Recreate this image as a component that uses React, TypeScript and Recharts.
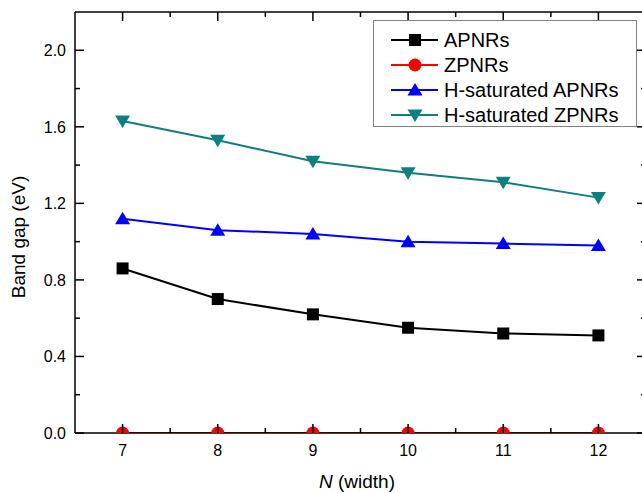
import { LineChart, Line, XAxis, YAxis, Legend } from "recharts";

const widths = [7, 8, 9, 10, 11, 12];
const apnrs = [0.86, 0.7, 0.62, 0.55, 0.52, 0.51];
const zpnrs = [0, 0, 0, 0, 0, 0];
const hApnrs = [1.12, 1.06, 1.04, 1.0, 0.99, 0.98];
const hZpnrs = [1.63, 1.53, 1.42, 1.36, 1.31, 1.23];

const xTicks = [7, 7.5, 8, 8.5, 9, 9.5, 10, 10.5, 11, 11.5, 12];
const yTicks = [0, 0.2, 0.4, 0.6, 0.8, 1.0, 1.2, 1.4, 1.6, 1.8, 2.0];

const FONT = "'Liberation Sans', Arial, sans-serif";

const data = widths.map((n, i) => ({
  n,
  apnrs: apnrs[i],
  zpnrs: zpnrs[i],
  hApnrs: hApnrs[i],
  hZpnrs: hZpnrs[i],
}));

const series = [
  { key: "apnrs", name: "APNRs", color: "#000000", shape: "square" },
  { key: "zpnrs", name: "ZPNRs", color: "#ff0000", shape: "circle" },
  { key: "hApnrs", name: "H-saturated APNRs", color: "#0000ff", shape: "up" },
  { key: "hZpnrs", name: "H-saturated ZPNRs", color: "#0e7f7f", shape: "down" },
];

function Marker({ cx, cy, shape, color }: any) {
  if (cx == null || cy == null) return null;
  if (shape === "square")
    return <rect x={cx - 6} y={cy - 6} width={12} height={12} fill={color} />;
  if (shape === "circle") return <circle cx={cx} cy={cy} r={6.5} fill={color} />;
  if (shape === "up")
    return (
      <polygon
        points={`${cx},${cy - 7} ${cx - 7.5},${cy + 5.5} ${cx + 7.5},${cy + 5.5}`}
        fill={color}
      />
    );
  return (
    <polygon
      points={`${cx - 7.5},${cy - 5.5} ${cx + 7.5},${cy - 5.5} ${cx},${cy + 7}`}
      fill={color}
    />
  );
}

const isMajorY = (v: number) => Math.round(v * 10) % 4 === 0;

const bottomTick = (p: any) => {
  const v = p.payload.value;
  const major = Number.isInteger(v);
  return (
    <g>
      <line x1={p.x} x2={p.x} y1={p.y} y2={p.y - (major ? 9 : 5)} stroke="#000" strokeWidth={1.5} />
      {major && (
        <text x={p.x} y={p.y + 23} textAnchor="middle" fontSize={16} fontFamily={FONT} fill="#000">
          {v}
        </text>
      )}
    </g>
  );
};

const topTick = (p: any) => {
  const major = Number.isInteger(p.payload.value);
  return (
    <line x1={p.x} x2={p.x} y1={p.y} y2={p.y + (major ? 9 : 5)} stroke="#000" strokeWidth={1.5} />
  );
};

const leftTick = (p: any) => {
  const v = p.payload.value;
  const major = isMajorY(v);
  return (
    <g>
      <line x1={p.x} x2={p.x + (major ? 9 : 5)} y1={p.y} y2={p.y} stroke="#000" strokeWidth={1.5} />
      {major && (
        <text x={p.x - 9} y={p.y + 6} textAnchor="end" fontSize={16} fontFamily={FONT} fill="#000">
          {v.toFixed(1)}
        </text>
      )}
    </g>
  );
};

// right spine sits just past the picture edge, only its inward ticks show
const rightTick = (p: any) => {
  const major = isMajorY(p.payload.value);
  return (
    <line x1={646} x2={646 - (major ? 9 : 5)} y1={p.y} y2={p.y} stroke="#000" strokeWidth={1.5} />
  );
};

const xLabel = () => (
  <text x={357} y={488} textAnchor="middle" fontSize={19} fontFamily={FONT} fill="#000">
    <tspan fontStyle="italic">N</tspan>
    <tspan> (width)</tspan>
  </text>
);

const yLabel = () => (
  <text
    x={25}
    y={237}
    transform="rotate(-90 25 237)"
    textAnchor="middle"
    fontSize={19}
    fontFamily={FONT}
    fill="#000"
  >
    Band gap (eV)
  </text>
);

const renderLegend = () => (
  <div
    style={{
      width: 264,
      height: 107,
      boxSizing: "border-box",
      border: "1.5px solid #808080",
      background: "#fff",
    }}
  >
    <svg width={261} height={104} style={{ display: "block" }}>
      {series.map((s, i) => {
        const cy = 19 + i * 25;
        return (
          <g key={s.key}>
            <line x1={17} x2={64} y1={cy} y2={cy} stroke={s.color} strokeWidth={2} />
            <Marker cx={41} cy={cy} shape={s.shape} color={s.color} />
            <text x={70} y={cy + 7} fontSize={20} fontFamily={FONT} fill="#000">
              {s.name}
            </text>
          </g>
        );
      })}
    </svg>
  </div>
);

export default function App() {
  return (
    <div
      style={{
        position: "absolute",
        left: 0,
        top: 0,
        width: 642,
        height: 493,
        overflow: "hidden",
        background: "#fff",
      }}
    >
      <LineChart
        width={652}
        height={493}
        data={data}
        margin={{ top: 11, right: 5, left: 74, bottom: 59 }}
      >
        <XAxis
          xAxisId="b"
          dataKey="n"
          type="number"
          domain={[6.5, 12.5]}
          ticks={xTicks}
          interval={0}
          allowDataOverflow
          height={1}
          tickLine={false}
          tickSize={0}
          tickMargin={0}
          axisLine={{ stroke: "#000", strokeWidth: 1.5 }}
          tick={bottomTick}
          label={{ content: xLabel }}
        />
        <XAxis
          xAxisId="t"
          orientation="top"
          dataKey="n"
          type="number"
          domain={[6.5, 12.5]}
          ticks={xTicks}
          interval={0}
          allowDataOverflow
          height={1}
          tickLine={false}
          tickSize={0}
          tickMargin={0}
          axisLine={{ stroke: "#000", strokeWidth: 1.5 }}
          tick={topTick}
        />
        <YAxis
          yAxisId="l"
          type="number"
          domain={[0, 2.2]}
          ticks={yTicks}
          interval={0}
          allowDataOverflow
          width={1}
          tickLine={false}
          tickSize={0}
          tickMargin={0}
          axisLine={{ stroke: "#000", strokeWidth: 1.5 }}
          tick={leftTick}
          label={{ content: yLabel }}
        />
        <YAxis
          yAxisId="r"
          orientation="right"
          type="number"
          domain={[0, 2.2]}
          ticks={yTicks}
          interval={0}
          allowDataOverflow
          width={1}
          tickLine={false}
          tickSize={0}
          tickMargin={0}
          axisLine={false}
          tick={rightTick}
        />
        <Legend
          layout="vertical"
          align="center"
          verticalAlign="middle"
          content={renderLegend}
          wrapperStyle={{ left: 373, top: 20, width: 264, height: 107 }}
        />
        {series.map((s) => (
          <Line
            key={s.key}
            xAxisId="b"
            yAxisId="l"
            dataKey={s.key}
            name={s.name}
            type="linear"
            stroke={s.color}
            strokeWidth={2}
            isAnimationActive={false}
            dot={(p: any) => (
              <Marker key={`${s.key}-${p.index}`} cx={p.cx} cy={p.cy} shape={s.shape} color={s.color} />
            )}
            activeDot={false}
          />
        ))}
      </LineChart>
    </div>
  );
}
